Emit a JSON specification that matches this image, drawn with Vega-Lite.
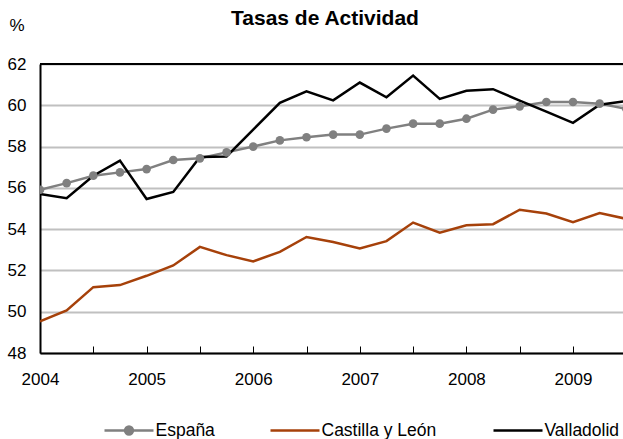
{
  "$schema": "https://vega.github.io/schema/vega-lite/v6.json",
  "width": 583,
  "height": 289,
  "autosize": "none",
  "padding": {"left": 40, "top": 64, "right": 0, "bottom": 86},
  "background": "white",
  "config": {
    "view": {"stroke": null},
    "font": "Liberation Sans",
    "legend": {
      "orient": "none", "direction": "horizontal", "title": null,
      "symbolType": "stroke", "symbolSize": 2401, "symbolStrokeWidth": 2.5,
      "labelFontSize": 17.5, "labelFont": "Liberation Sans", "labelColor": "black",
      "labelOffset": 0.5, "padding": 0, "labelLimit": 300
    }
  },
  "title": {"text": "Tasas de Actividad", "fontSize": 21, "fontWeight": "bold", "font": "Liberation Sans", "color": "black", "anchor": "middle", "dx": -6.5, "dy": 12, "offset": 0},
  "data": {"values": [
    {"i": 0, "serie": "España", "v": 55.91},
    {"i": 1, "serie": "España", "v": 56.23},
    {"i": 2, "serie": "España", "v": 56.59},
    {"i": 3, "serie": "España", "v": 56.75},
    {"i": 4, "serie": "España", "v": 56.91},
    {"i": 5, "serie": "España", "v": 57.35},
    {"i": 6, "serie": "España", "v": 57.43},
    {"i": 7, "serie": "España", "v": 57.72},
    {"i": 8, "serie": "España", "v": 58.0},
    {"i": 9, "serie": "España", "v": 58.3},
    {"i": 10, "serie": "España", "v": 58.45},
    {"i": 11, "serie": "España", "v": 58.58},
    {"i": 12, "serie": "España", "v": 58.58},
    {"i": 13, "serie": "España", "v": 58.87},
    {"i": 14, "serie": "España", "v": 59.11},
    {"i": 15, "serie": "España", "v": 59.11},
    {"i": 16, "serie": "España", "v": 59.35},
    {"i": 17, "serie": "España", "v": 59.79},
    {"i": 18, "serie": "España", "v": 59.95},
    {"i": 19, "serie": "España", "v": 60.16},
    {"i": 20, "serie": "España", "v": 60.16},
    {"i": 21, "serie": "España", "v": 60.08},
    {"i": 22, "serie": "España", "v": 59.83},
    {"i": 0, "serie": "Castilla y León", "v": 49.53},
    {"i": 1, "serie": "Castilla y León", "v": 50.06},
    {"i": 2, "serie": "Castilla y León", "v": 51.19},
    {"i": 3, "serie": "Castilla y León", "v": 51.29},
    {"i": 4, "serie": "Castilla y León", "v": 51.74},
    {"i": 5, "serie": "Castilla y León", "v": 52.24},
    {"i": 6, "serie": "Castilla y León", "v": 53.14},
    {"i": 7, "serie": "Castilla y León", "v": 52.74},
    {"i": 8, "serie": "Castilla y León", "v": 52.44},
    {"i": 9, "serie": "Castilla y León", "v": 52.9},
    {"i": 10, "serie": "Castilla y León", "v": 53.62},
    {"i": 11, "serie": "Castilla y León", "v": 53.38},
    {"i": 12, "serie": "Castilla y León", "v": 53.06},
    {"i": 13, "serie": "Castilla y León", "v": 53.42},
    {"i": 14, "serie": "Castilla y León", "v": 54.32},
    {"i": 15, "serie": "Castilla y León", "v": 53.83},
    {"i": 16, "serie": "Castilla y León", "v": 54.19},
    {"i": 17, "serie": "Castilla y León", "v": 54.24},
    {"i": 18, "serie": "Castilla y León", "v": 54.94},
    {"i": 19, "serie": "Castilla y León", "v": 54.76},
    {"i": 20, "serie": "Castilla y León", "v": 54.34},
    {"i": 21, "serie": "Castilla y León", "v": 54.78},
    {"i": 22, "serie": "Castilla y León", "v": 54.5},
    {"i": 0, "serie": "Valladolid", "v": 55.7},
    {"i": 1, "serie": "Valladolid", "v": 55.5},
    {"i": 2, "serie": "Valladolid", "v": 56.59},
    {"i": 3, "serie": "Valladolid", "v": 57.32},
    {"i": 4, "serie": "Valladolid", "v": 55.46},
    {"i": 5, "serie": "Valladolid", "v": 55.8},
    {"i": 6, "serie": "Valladolid", "v": 57.5},
    {"i": 7, "serie": "Valladolid", "v": 57.52},
    {"i": 8, "serie": "Valladolid", "v": 58.82},
    {"i": 9, "serie": "Valladolid", "v": 60.12},
    {"i": 10, "serie": "Valladolid", "v": 60.68},
    {"i": 11, "serie": "Valladolid", "v": 60.24},
    {"i": 12, "serie": "Valladolid", "v": 61.1},
    {"i": 13, "serie": "Valladolid", "v": 60.39},
    {"i": 14, "serie": "Valladolid", "v": 61.44},
    {"i": 15, "serie": "Valladolid", "v": 60.31},
    {"i": 16, "serie": "Valladolid", "v": 60.7},
    {"i": 17, "serie": "Valladolid", "v": 60.78},
    {"i": 18, "serie": "Valladolid", "v": 60.23},
    {"i": 19, "serie": "Valladolid", "v": 59.69},
    {"i": 20, "serie": "Valladolid", "v": 59.15},
    {"i": 21, "serie": "Valladolid", "v": 60.03},
    {"i": 22, "serie": "Valladolid", "v": 60.2}
  ]},
  "resolve": {"scale": {"color": "independent"}, "legend": {"color": "independent"}},
  "layer": [
    {
      "transform": [{"filter": "datum.serie === 'España'"}],
      "mark": {"type": "line", "strokeWidth": 2.5, "clip": true},
      "encoding": {
        "x": {
          "field": "i", "type": "quantitative",
          "scale": {"domain": [0, 21.876], "nice": false, "zero": false},
          "axis": {
            "values": [0,1,2,3,4,5,6,7,8,9,10,11,12,13,14,15,16,17,18,19,20,21],
            "labelExpr": "datum.value % 4 === 0 ? '' + (2004 + datum.value / 4) : ''",
            "grid": false, "title": null,
            "domainColor": "black", "domainWidth": 2,
            "tickColor": "black", "tickWidth": 1, "tickSize": -7, "tickRound": true,
            "labelPadding": 25, "labelFontSize": 17, "labelColor": "black", "labelFont": "Liberation Sans",
            "labelFlush": false, "labelOverlap": false
          }
        },
        "y": {
          "field": "v", "type": "quantitative",
          "scale": {"domain": [48, 62], "nice": false, "zero": false},
          "axis": {
            "values": [48,50,52,54,56,58,60,62],
            "grid": true, "gridColor": "#C0C0C0", "gridWidth": 2,
            "domainColor": "black", "domainWidth": 2,
            "ticks": false, "tickSize": 0,
            "labelPadding": 14, "labelFontSize": 17, "labelColor": "black", "labelFont": "Liberation Sans",
            "title": "%", "titleAngle": 0, "titleAlign": "center", "titleBaseline": "middle",
            "titleX": -23.5, "titleY": -38.5, "titleFontSize": 17, "titleFontWeight": "normal", "titleColor": "black", "titleFont": "Liberation Sans"
          }
        },
        "color": {
          "field": "serie", "type": "nominal",
          "scale": {"domain": ["España"], "range": ["#808080"]},
          "legend": {
            "legendX": 63, "legendY": 340.5,
            "encode": {"symbols": {"update": {
              "shape": {"value": "M-1,0H1M-0.16,0A0.16,0.16,0,1,1,0.16,0A0.16,0.16,0,1,1,-0.16,0Z"},
              "fill": {"value": "#808080"}
            }}}
          }
        }
      }
    },
    {
      "transform": [{"filter": "datum.serie === 'Castilla y León'"}],
      "mark": {"type": "line", "strokeWidth": 2.5, "clip": true},
      "encoding": {
        "x": {"field": "i", "type": "quantitative"},
        "y": {"field": "v", "type": "quantitative"},
        "color": {
          "field": "serie", "type": "nominal",
          "scale": {"domain": ["Castilla y León"], "range": ["#A6410A"]},
          "legend": {"legendX": 229, "legendY": 340.5}
        }
      }
    },
    {
      "transform": [{"filter": "datum.serie === 'Valladolid'"}],
      "mark": {"type": "line", "strokeWidth": 2.5, "clip": true},
      "encoding": {
        "x": {"field": "i", "type": "quantitative"},
        "y": {"field": "v", "type": "quantitative"},
        "color": {
          "field": "serie", "type": "nominal",
          "scale": {"domain": ["Valladolid"], "range": ["#000000"]},
          "legend": {"legendX": 452, "legendY": 340.5}
        }
      }
    },
    {
      "transform": [{"filter": "datum.serie === 'España'"}],
      "mark": {"type": "circle", "color": "#808080", "size": 75, "opacity": 1, "clip": true},
      "encoding": {
        "x": {"field": "i", "type": "quantitative"},
        "y": {"field": "v", "type": "quantitative"}
      }
    },
    {
      "mark": {"type": "rule", "color": "black", "strokeWidth": 1.5},
      "encoding": {"y": {"datum": 62, "type": "quantitative"}}
    }
  ]
}
